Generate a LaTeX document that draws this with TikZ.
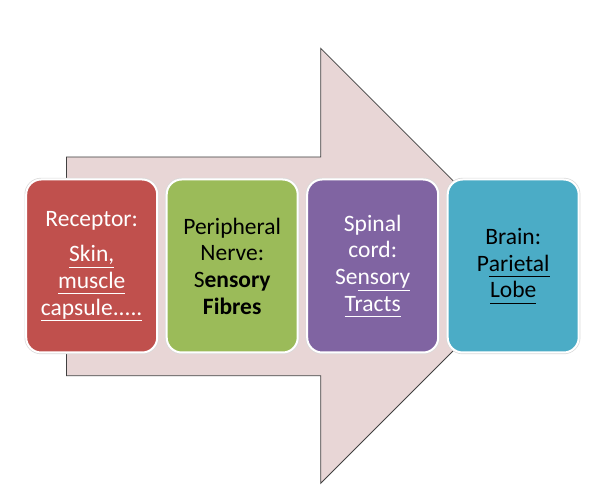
\documentclass[tikz,border=0pt]{standalone}
\usepackage{fontspec}
\setmainfont{Carlito}
\usepackage{tikz}
\usetikzlibrary{positioning}

\definecolor{arrowpink}{RGB}{232,214,214}
\definecolor{receptorred}{RGB}{192,80,77}
\definecolor{nervegreen}{RGB}{155,187,89}
\definecolor{cordpurple}{RGB}{128,100,162}
\definecolor{brainblue}{RGB}{75,172,198}

\newcommand{\ulin}[1]{\underline{#1\vphantom{p}}}

\tikzset{
    stagebox/.style={rounded corners=15pt, minimum width=131pt, minimum height=173pt, inner sep=0pt,
        align=center, draw=white, line width=2pt, preaction={draw=black!15, line width=3.4pt},
        font=\fontsize{23.5}{26.7}\selectfont}
}

\begin{document}
\begin{tikzpicture}[x=1pt, y=1pt]

        \useasboundingbox (0,0) rectangle (592,501);

        % Big arrow behind the stages
        \draw [fill=arrowpink, draw=black!75, line width=0.8pt] (66.5,344) -- (320.7,344) -- (320.7,452.7)
            -- (538.2,235.2) -- (320.7,17.7) -- (320.7,125.3) -- (66.5,125.3) -- cycle;

        % Stages of the pathway
        \node [stagebox, fill=receptorred, text=white] (receptor) at (91.7,235) {Receptor:\\[9pt] \ulin{Skin,}\\ \ulin{muscle}\\ \ulin{capsule.....}};
        \node [stagebox, fill=nervegreen, right=7.5pt of receptor] (nerve) {Peripheral\\ Nerve:\\ S\textbf{ensory}\\ \textbf{Fibres}};
        \node [stagebox, fill=cordpurple, text=white, right=7.5pt of nerve] (cord) {Spinal\\ cord:\\ Se\ulin{nsory}\\ \ulin{Tracts}};
        \node [stagebox, fill=brainblue, right=7.5pt of cord] (brain) {Brain:\\ P\ulin{arietal}\\ \ulin{Lobe}};

    \end{tikzpicture}
\end{document}
